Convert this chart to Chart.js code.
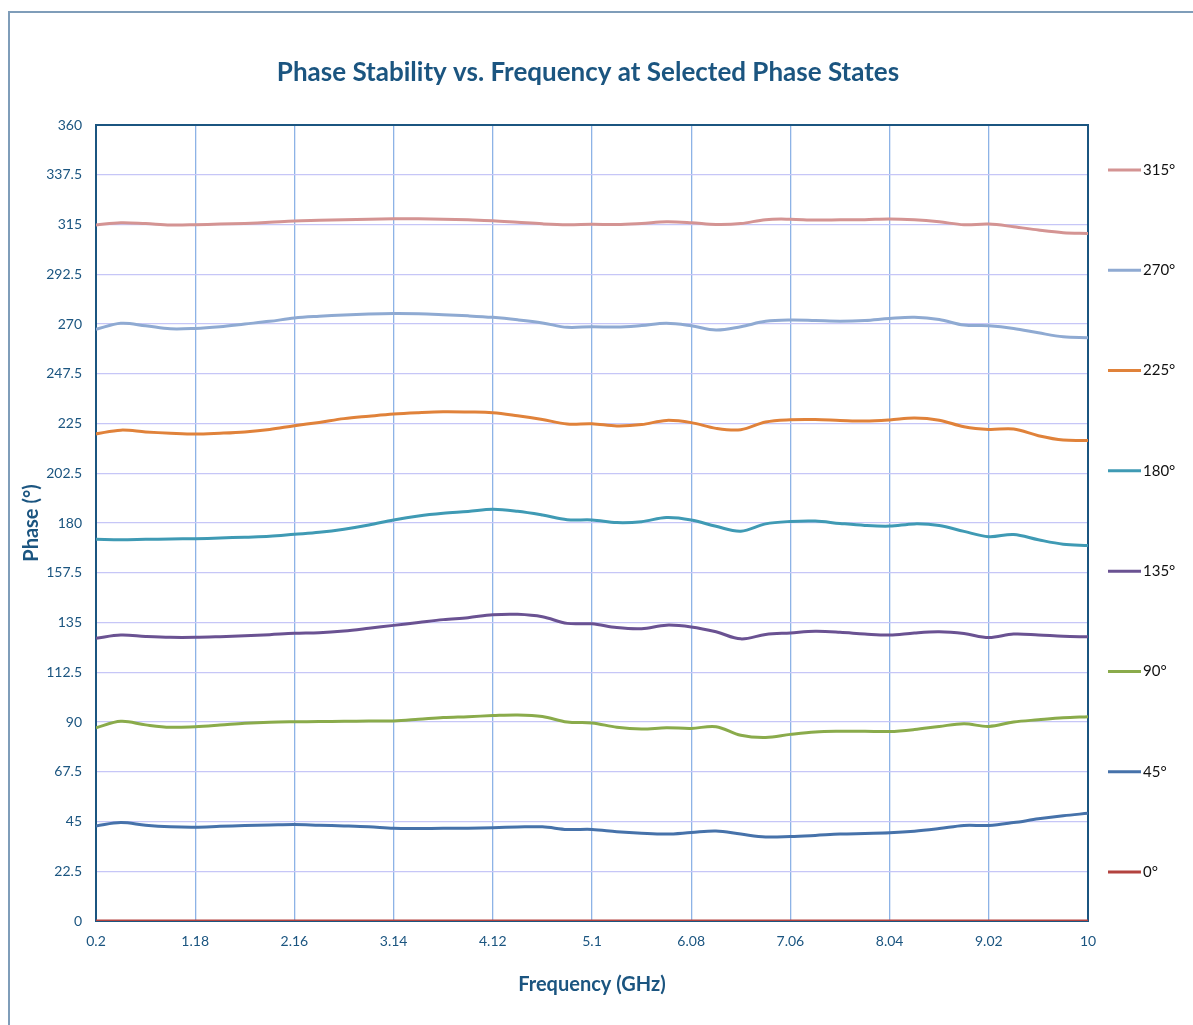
<!DOCTYPE html>
<html>
<head>
<meta charset="utf-8">
<title>Phase Stability vs. Frequency</title>
<script src="https://cdn.jsdelivr.net/npm/chart.js@4.4.1/dist/chart.umd.min.js"></script>
<style>
  html, body { margin: 0; padding: 0; background: #fff; overflow: hidden; }
  #wrap { position: relative; width: 1193px; height: 1025px; }
  #frame { position: absolute; left: 8px; top: 11px; right: -10px; bottom: -10px;
           border-top: 2px solid #7f9db9; border-left: 2px solid #7f9db9; pointer-events: none; }
</style>
</head>
<body>
<div id="wrap">
  <canvas id="phaseChart"></canvas>
  <div id="frame"></div>
</div>
<script>
// Frequency grid (GHz) and axis ticks
const frequencies = [0.2, 0.445, 0.69, 0.935, 1.18, 1.425, 1.67, 1.915, 2.16, 2.405,
  2.65, 2.895, 3.14, 3.385, 3.63, 3.875, 4.12, 4.365, 4.61, 4.855,
  5.1, 5.345, 5.59, 5.835, 6.08, 6.325, 6.57, 6.815, 7.06, 7.305,
  7.55, 7.795, 8.04, 8.285, 8.53, 8.775, 9.02, 9.265, 9.51, 9.755, 10];
const xTicks = ['0.2', '1.18', '2.16', '3.14', '4.12', '5.1', '6.08', '7.06', '8.04', '9.02', '10'];
const yTicks = ['0', '22.5', '45', '67.5', '90', '112.5', '135', '157.5', '180', '202.5',
  '225', '247.5', '270', '292.5', '315', '337.5', '360'];

// Measured phase (deg) per state
const phase315 = [314.8, 315.8, 315.4, 314.8, 314.9, 315.2, 315.5, 316.0, 316.6, 316.9,
  317.2, 317.4, 317.6, 317.6, 317.4, 317.1, 316.7, 316.0, 315.3, 314.9,
  315.1, 315.0, 315.5, 316.2, 315.8, 315.0, 315.4, 317.2, 317.4, 317.0,
  317.1, 317.2, 317.5, 317.1, 316.2, 314.9, 315.2, 314.0, 312.5, 311.3, 310.9];
const phase270 = [267.6, 270.3, 269.2, 267.8, 268.0, 268.8, 270.0, 271.2, 272.7, 273.5,
  274.1, 274.5, 274.7, 274.6, 274.2, 273.7, 273.0, 271.9, 270.5, 268.5,
  268.8, 268.6, 269.3, 270.3, 269.2, 267.3, 268.8, 271.2, 271.8, 271.6,
  271.3, 271.6, 272.5, 273.0, 272.0, 269.5, 269.2, 268.0, 266.0, 264.2, 263.8];
const phase225 = [220.3, 222.0, 221.2, 220.6, 220.2, 220.6, 221.2, 222.3, 224.0, 225.5,
  227.2, 228.3, 229.3, 229.9, 230.3, 230.2, 229.9, 228.5, 226.8, 224.8,
  224.9, 223.9, 224.5, 226.4, 225.4, 222.8, 222.2, 225.7, 226.7, 226.8,
  226.4, 226.1, 226.6, 227.5, 226.5, 223.5, 222.3, 222.5, 219.5, 217.5, 217.3];
const phase180 = [172.6, 172.4, 172.6, 172.8, 172.9, 173.2, 173.6, 174.0, 174.9, 175.8,
  177.2, 179.1, 181.4, 183.2, 184.4, 185.2, 186.2, 185.3, 183.6, 181.5,
  181.4, 180.2, 180.6, 182.5, 181.4, 178.5, 176.3, 179.6, 180.7, 180.9,
  179.8, 178.9, 178.6, 179.6, 178.9, 176.2, 173.8, 174.8, 172.4, 170.4, 169.8];
const phase135 = [127.9, 129.3, 128.7, 128.3, 128.3, 128.6, 129.0, 129.5, 130.1, 130.4,
  131.2, 132.4, 133.7, 135.0, 136.3, 137.2, 138.5, 138.7, 137.6, 134.6,
  134.4, 132.7, 132.2, 133.8, 133.0, 130.8, 127.6, 129.6, 130.3, 131.0,
  130.6, 129.8, 129.3, 130.3, 130.8, 130.0, 128.2, 129.8, 129.4, 128.8, 128.5];
const phase90 = [87.4, 90.3, 88.7, 87.6, 87.9, 88.6, 89.4, 89.9, 90.1, 90.2,
  90.3, 90.4, 90.5, 91.2, 92.0, 92.4, 92.9, 93.2, 92.5, 90.0,
  89.6, 87.6, 86.8, 87.4, 87.1, 87.9, 84.0, 83.0, 84.4, 85.5,
  85.8, 85.8, 85.7, 86.6, 88.0, 89.2, 88.0, 90.0, 91.0, 91.9, 92.4];
const phase45 = [43.0, 44.5, 43.3, 42.6, 42.4, 42.8, 43.2, 43.4, 43.6, 43.3,
  43.0, 42.6, 41.9, 41.8, 41.9, 42.0, 42.2, 42.5, 42.6, 41.4,
  41.4, 40.4, 39.7, 39.3, 40.0, 40.7, 39.3, 38.0, 38.2, 38.7,
  39.3, 39.6, 39.9, 40.6, 41.8, 43.2, 43.2, 44.5, 46.2, 47.6, 48.7];
const phase0 = [0, 0, 0, 0, 0, 0, 0, 0, 0, 0,
  0, 0, 0, 0, 0, 0, 0, 0, 0, 0,
  0, 0, 0, 0, 0, 0, 0, 0, 0, 0,
  0, 0, 0, 0, 0, 0, 0, 0, 0, 0, 0];

const seriesLabels = ['315°', '270°', '225°', '180°', '135°', '90°', '45°', '0°'];
const seriesValues = [phase315, phase270, phase225, phase180, phase135, phase90, phase45, phase0];
const seriesColors = ['#d49493', '#8faad2', '#e0823a', '#3f9ab4', '#6a5292', '#8aab4b', '#4672aa', '#b3433f'];

const chartTitle = 'Phase Stability vs. Frequency at Selected Phase States';
const axisBlue = '#1b5580';
const fontFamily = 'Lato, "Open Sans", sans-serif';

// plot frame, title and the spread-out legend on the right
const framePlugin = {
  id: 'frameAndLegend',
  beforeDatasetsDraw(chart) {
    const {ctx, chartArea: a} = chart;
    ctx.save();
    ctx.strokeStyle = axisBlue;
    ctx.lineWidth = 2;
    ctx.strokeRect(a.left, a.top, a.right - a.left, a.bottom - a.top);
    ctx.restore();
  },
  afterDraw(chart) {
    const {ctx, chartArea: a} = chart;
    ctx.save();
    // title
    ctx.font = 'bold 26px ' + fontFamily;
    ctx.fillStyle = axisBlue;
    ctx.textAlign = 'center';
    ctx.textBaseline = 'middle';
    ctx.fillText(chartTitle, 588, 73);

    // legend
    const step = (a.bottom - a.top - 94) / 7;
    ctx.font = '15px ' + fontFamily;
    ctx.textAlign = 'left';
    seriesLabels.forEach((label, i) => {
      const y = a.top + 45 + i * step;
      ctx.strokeStyle = seriesColors[i];
      ctx.lineWidth = 3;
      ctx.beginPath();
      ctx.moveTo(a.right + 20, y);
      ctx.lineTo(a.right + 53, y);
      ctx.stroke();
      ctx.fillStyle = '#111';
      ctx.fillText(label, a.right + 55, y);
    });
    ctx.restore();
  }
};

const ctx = document.getElementById('phaseChart').getContext('2d');

new Chart(ctx, {
  type: 'line',
  data: {
    datasets: seriesLabels.map((label, i) => ({
      label: label,
      data: frequencies.map((f, j) => ({x: f, y: seriesValues[i][j]})),
      borderColor: seriesColors[i],
      backgroundColor: seriesColors[i],
      borderWidth: 3,
      pointRadius: 0,
      tension: 0.35,
      fill: false
    }))
  },
  options: {
    responsive: true,
    maintainAspectRatio: false,
    animation: false,
    layout: { padding: { left: 0, right: 105, top: 125, bottom: 0 } },
    plugins: {
      legend: { display: false },
      tooltip: { enabled: false },
      title: { display: false }
    },
    scales: {
      x: {
        type: 'linear',
        min: 0.2,
        max: 10,
        afterBuildTicks: (scale) => {
          scale.ticks = xTicks.map(t => ({value: parseFloat(t)}));
        },
        afterFit: (scale) => { scale.height = 104; },
        ticks: {
          color: axisBlue,
          font: { family: fontFamily, size: 14 },
          padding: 12,
          maxRotation: 0,
          autoSkip: false,
          callback: (v) => xTicks.find(t => Math.abs(parseFloat(t) - v) < 1e-6) || ''
        },
        grid: { color: '#8db3e6', lineWidth: 1.3, drawTicks: false },
        border: { display: false },
        title: {
          display: true,
          text: 'Frequency (GHz)',
          color: axisBlue,
          font: { family: fontFamily, size: 20, weight: 'bold' },
          padding: { top: 0, bottom: 28 }
        }
      },
      y: {
        min: 0,
        max: 360,
        afterBuildTicks: (scale) => {
          scale.ticks = yTicks.map(t => ({value: parseFloat(t)}));
        },
        afterFit: (scale) => { scale.width = 96; },
        ticks: {
          color: axisBlue,
          font: { family: fontFamily, size: 14 },
          padding: 14,
          autoSkip: false,
          callback: (v) => yTicks.find(t => Math.abs(parseFloat(t) - v) < 1e-6) || ''
        },
        grid: { color: '#c6c6f7', lineWidth: 1.2, drawTicks: false },
        border: { display: false },
        title: {
          display: true,
          text: 'Phase (°)',
          color: axisBlue,
          font: { family: fontFamily, size: 20, weight: 'bold' },
          padding: { top: 20, bottom: 0 }
        }
      }
    }
  },
  plugins: [framePlugin]
});
</script>
</body>
</html>
